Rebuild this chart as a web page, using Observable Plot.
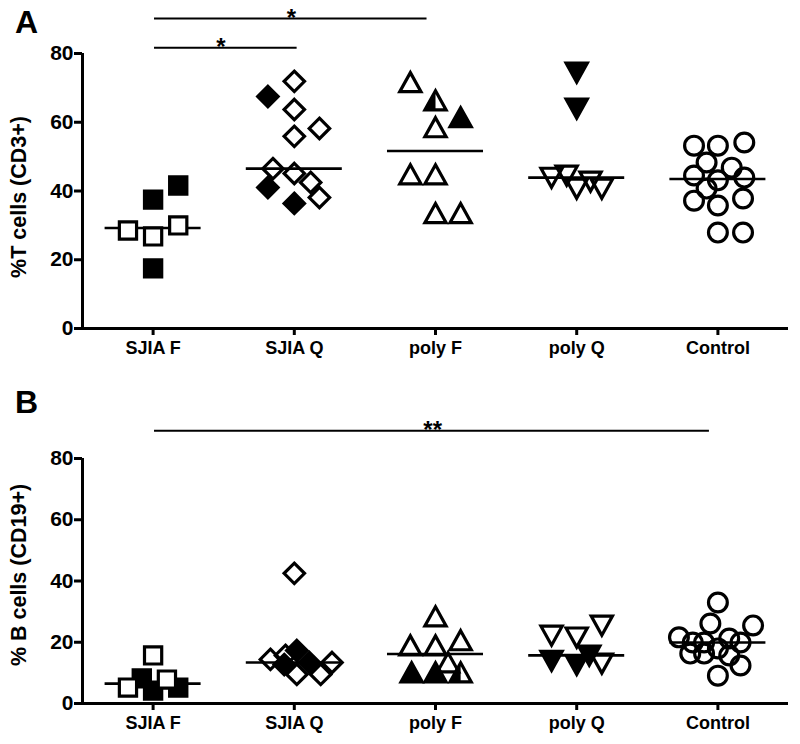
<!DOCTYPE html>
<html><head><meta charset="utf-8">
<script src="https://cdn.jsdelivr.net/npm/d3@7"></script>
<script src="https://cdn.jsdelivr.net/npm/@observablehq/plot@0.6"></script>
<style>html,body{margin:0;padding:0;background:#fff}svg{display:block}</style>
</head><body><div id="chart"></div>
<script>
const groups = ["SJIA F", "SJIA Q", "poly F", "poly Q", "Control"];
const yTicks = [0, 20, 40, 60, 80];

// Panel A: % T cells (CD3+). kind: F = filled, O = open, H = half filled
const aGroup = [
  "SJIA F","SJIA F","SJIA F","SJIA F","SJIA F","SJIA F",
  "SJIA Q","SJIA Q","SJIA Q","SJIA Q","SJIA Q","SJIA Q","SJIA Q","SJIA Q","SJIA Q","SJIA Q","SJIA Q",
  "poly F","poly F","poly F","poly F","poly F","poly F","poly F","poly F",
  "poly Q","poly Q","poly Q","poly Q","poly Q","poly Q","poly Q",
  "Control","Control","Control","Control","Control","Control","Control","Control","Control","Control","Control","Control","Control","Control"];
const aValue = [
  41.6, 37.5, 17.5, 28.5, 26.8, 30.0,
  67.5, 41.0, 36.4, 71.9, 63.7, 58.2, 55.9, 46.5, 45.1, 42.5, 38.1,
  61.4, 66.3, 71.6, 58.5, 44.8, 44.8, 33.5, 33.5,
  74.5, 64.0, 43.9, 44.5, 42.8, 40.7, 40.7,
  53.2, 53.2, 54.1, 48.3, 46.8, 44.5, 43.1, 43.9, 40.7, 37.2, 35.8, 37.8, 27.9, 27.9];
const aLane = [
  1, 0, 0, -1, 0, 1,
  -1.05, -1.05, 0, 0, 0, 1, 0, -0.85, 0, 0.65, 1,
  1, 0, -1, 0, -1, 0, 0, 1,
  0, 0, -1, -0.4, 0.55, 0, 1,
  -0.95, 0, 1.05, -0.45, 0.55, -0.95, 0, 1.05, -0.45, -0.95, 0, 1, 0, 1];
const aKind = [
  "F","F","F","O","O","O",
  "F","F","F","O","O","O","O","O","O","O","O",
  "F","H","O","O","O","O","O","O",
  "F","F","O","O","O","O","O",
  "O","O","O","O","O","O","O","O","O","O","O","O","O","O"];
const aSigFrom = ["SJIA F", "SJIA F"];
const aSigTo = ["SJIA Q", "poly F"];
const aSigY = [81.7, 90.2];
const aSigText = ["*", "*"];

// Panel B: % B cells (CD19+)
const bGroup = [
  "SJIA F","SJIA F","SJIA F","SJIA F","SJIA F","SJIA F",
  "SJIA Q","SJIA Q","SJIA Q","SJIA Q","SJIA Q","SJIA Q","SJIA Q","SJIA Q","SJIA Q",
  "poly F","poly F","poly F","poly F","poly F","poly F","poly F","poly F",
  "poly Q","poly Q","poly Q","poly Q","poly Q","poly Q","poly Q",
  "Control","Control","Control","Control","Control","Control","Control","Control","Control","Control","Control","Control","Control","Control"];
const bValue = [
  8.2, 4.2, 5.2, 15.7, 5.2, 7.8,
  42.5, 14.4, 15.7, 9.5, 9.5, 13.4, 17.3, 12.7, 13.4,
  28.4, 18.9, 18.9, 20.6, 13.4, 10.1, 10.1, 10.1,
  25.5, 21.6, 22.2, 14.0, 12.7, 15.7, 13.1,
  33.0, 26.1, 25.5, 21.6, 19.9, 19.9, 21.2, 19.9, 16.3, 16.3, 18.0, 15.7, 12.4, 9.1];
const bLane = [
  -0.45, 0, 1, 0, -1, 0.55,
  0, -0.95, -0.35, 0.1, 1.05, 1.5, 0.1, -0.4, 0.6,
  0, -1, 0, 1, 0.5, -0.95, 0, 1,
  1, 0, -1, -1, 0, 0.5, 1,
  0, -0.3, 1.4, -1.55, -1.0, -0.55, 0.45, 0.9, -1.1, -0.55, 0, 0.45, 0.9, 0];
const bKind = [
  "F","F","F","O","O","O",
  "O","O","O","O","O","O","F","F","F",
  "O","O","O","O","O","F","F","H",
  "O","O","O","F","F","F","O",
  "O","O","O","O","O","O","O","O","O","O","O","O","O","O"];
const bSigFrom = ["SJIA F"];
const bSigTo = ["Control"];
const bSigY = [89.1];
const bSigText = ["**"];

// ---- symbols (sized from Plot's r) ----
const rOf = s => Math.sqrt(s / Math.PI);
const symSquare = {draw(c, s) { const h = rOf(s); c.rect(-h, -h, 2 * h, 2 * h); }};
const symDiamond = {draw(c, s) { const h = rOf(s); c.moveTo(0, -h); c.lineTo(h, 0); c.lineTo(0, h); c.lineTo(-h, 0); c.closePath(); }};
const symTriUp = {draw(c, s) { const h = rOf(s); c.moveTo(0, -0.92 * h); c.lineTo(h, 0.88 * h); c.lineTo(-h, 0.88 * h); c.closePath(); }};
const symTriDown = {draw(c, s) { const h = rOf(s); c.moveTo(0, 0.92 * h); c.lineTo(h, -0.88 * h); c.lineTo(-h, -0.88 * h); c.closePath(); }};
const symTriHalf = {draw(c, s) { const h = rOf(s); c.moveTo(0, -0.92 * h); c.lineTo(0, 0.88 * h); c.lineTo(-h, 0.88 * h); c.closePath(); }};
const symCircle = {draw(c, s) { const h = rOf(s); c.moveTo(h, 0); c.arc(0, 0, h, 0, 2 * Math.PI); }};
const SHAPES = [symSquare, symDiamond, symTriUp, symTriDown, symCircle];
const RADII = [8.6, 10.2, 10.6, 10.6, 9.4];
const SW = 3.2;
const LANE = 0.178;
const FONT = "'Liberation Sans', Arial, Helvetica, sans-serif";

function panel(cfg) {
  const data = cfg.value.map((v, i) => ({gi: groups.indexOf(cfg.group[i]), v, lane: cfg.lane[i], kind: cfg.kind[i]}));
  const X = d => d.gi + d.lane * LANE;
  const medians = groups.map((g, i) => ({i, m: d3.median(data.filter(d => d.gi === i), d => d.v)}));
  const sig = cfg.sigY.map((y, k) => ({a: groups.indexOf(cfg.sigFrom[k]), b: groups.indexOf(cfg.sigTo[k]), y, t: cfg.sigText[k]}));
  const marks = [
    Plot.ruleY(medians, {y: "m", x1: d => d.i - 0.34, x2: d => d.i + 0.34, stroke: "#000", strokeWidth: 2.6})
  ];
  groups.forEach((g, i) => {
    const pts = data.filter(d => d.gi === i);
    const base = {x: X, y: "v", r: RADII[i], symbol: SHAPES[i], stroke: "#000", strokeWidth: SW};
    const openM = Plot.dot(pts.filter(d => d.kind !== "F"), {...base, fill: i === 0 ? "#fff" : "none"});
    const fillM = Plot.dot(pts.filter(d => d.kind === "F"), {...base, fill: "#000"});
    const halfM = Plot.dot(pts.filter(d => d.kind === "H"), {x: X, y: "v", r: RADII[i], symbol: symTriHalf, fill: "#000", stroke: "none"});
    if (i === 0) marks.push(fillM, openM); else marks.push(openM, fillM, halfM);
  });
  marks.push(
    Plot.ruleY(sig, {y: "y", x1: d => d.a + 0.01, x2: d => d.b - (d.b - d.a > 1 ? 0.06 : -0.02), stroke: "#000", strokeWidth: 2}),
    Plot.text(sig, {x: d => (d.a + d.b) / 2 - 0.02, y: "y", text: "t", dy: 0, fontSize: 24, fontWeight: "bold", fill: "#000"}),
    Plot.ruleX([-0.5], {y1: 0, y2: 80, stroke: "#000", strokeWidth: 3}),
    Plot.ruleY([0], {stroke: "#000", strokeWidth: 3}),
    Plot.axisY({ticks: yTicks, tickSize: 8, tickPadding: 1, stroke: "#000", strokeWidth: 3, fontSize: 21, fontWeight: "bold", fill: "#000", label: null}),
    Plot.axisX({ticks: [0, 1, 2, 3, 4], tickFormat: i => groups[i], tickSize: 7, tickPadding: 6, stroke: "#000", strokeWidth: 3, fontSize: 18, fontWeight: "bold", fill: "#000", label: null}),
    Plot.text([cfg.yLabel], {frameAnchor: "left", dx: cfg.labelDx, dy: cfg.labelDy, rotate: -90, fontSize: 21.5, fontWeight: "bold", fill: "#000", textAnchor: "middle", lineAnchor: "middle"}),
    Plot.text([cfg.letter], {frameAnchor: "top-left", dx: cfg.letterDx, dy: cfg.letterDy, fontSize: 32, fontWeight: "bold", fill: "#000", textAnchor: "middle", lineAnchor: "middle"})
  );
  return Plot.plot({
    width: 800, height: cfg.height,
    marginLeft: 82, marginRight: 12, marginTop: cfg.marginTop, marginBottom: cfg.marginBottom,
    x: {domain: [-0.5, 4.5], label: null},
    y: {domain: [0, 80], label: null},
    style: {fontFamily: FONT, fontWeight: "bold", color: "#000", background: "#fff", overflow: "visible"},
    marks
  });
}

const root = document.getElementById("chart");
root.appendChild(panel({group: aGroup, value: aValue, lane: aLane, kind: aKind,
  sigFrom: aSigFrom, sigTo: aSigTo, sigY: aSigY, sigText: aSigText,
  yLabel: "%T cells (CD3+)", letter: "A",
  height: 372, marginTop: 53, marginBottom: 44, labelDx: -63, labelDy: 6, letterDx: -56, letterDy: -31}));
root.appendChild(panel({group: bGroup, value: bValue, lane: bLane, kind: bKind,
  sigFrom: bSigFrom, sigTo: bSigTo, sigY: bSigY, sigText: bSigText,
  yLabel: "% B cells (CD19+)", letter: "B",
  height: 372, marginTop: 86, marginBottom: 41, labelDx: -63, labelDy: -6, letterDx: -56, letterDy: -56}));
</script></body></html>
